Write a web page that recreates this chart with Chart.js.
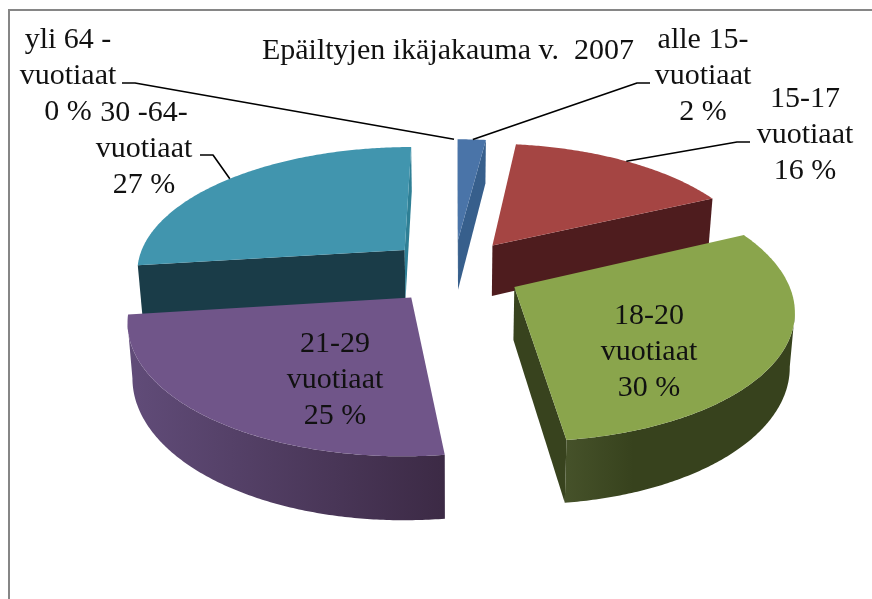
<!DOCTYPE html>
<html><head><meta charset="utf-8">
<style>html,body{margin:0;padding:0;background:#fff}canvas{display:block}</style>
<script src="https://cdn.jsdelivr.net/npm/chart.js@4"></script>
</head><body>
<div style="width:872px;height:599px"><canvas id="c" width="872" height="599"></canvas></div>
<script>
const categories = ['alle 15-vuotiaat','15-17 vuotiaat','18-20 vuotiaat','21-29 vuotiaat','30 -64-vuotiaat','yli 64 -vuotiaat'];
const shares = [2,16,30,25,27,0];
const titleText = 'Epäiltyjen ikäjakauma v.  2007';
const topColors = ['#4A74A8','#A54543','#8AA54C','#705589','#4195AE','#C0C0C0'];
const sideColors = ['#375F8C','#4E1C1E','#38431E','#5F4A76','#2E7F95','#808080'];
const wallFrom = ['#375F8C','#4E1C1E','#46522A','#614C79','#1A3C48','#808080'];
const wallTo = ['#375F8C','#4E1C1E','#37421D','#3C2A45','#1A3C48','#808080'];
const radialColors = ['#375F8C','#4E1C1E','#38431E','#3C2A45','#1A3C48','#808080'];
const labelLines = [
  ['alle 15-','vuotiaat','2 %'],['15-17','vuotiaat','16 %'],['18-20','vuotiaat','30 %'],
  ['21-29','vuotiaat','25 %'],['30 -64-','vuotiaat','27 %'],['yli 64 -','vuotiaat','0 %']];
// label layout: centre x, first baseline y, leader elbow
const labelPlace = [
  {x:703,y:48,elbow:[[650,83],[637,83]]},
  {x:805,y:107,elbow:[[750,142],[737,142]]},
  {x:649,y:324},
  {x:335,y:352},
  {x:144,y:121,elbow:[[200,155],[213,155]]},
  {x:68,y:48,elbow:[[122,83],[135,83]]}];

const cam = {cx:454,cy:271,A:270,B:125,p:0.155,explodeX:0.25,explodeY:0.26,depth:52,shrink:0.985};
function project(X,Y,low){
  const w = 1-cam.p*Y;
  let x = cam.A*X/w, y = cam.B*Y/w;
  if(low){ x*=cam.shrink; y+=cam.depth/w; }
  return [cam.cx+x, cam.cy+y];
}
function poly(ctx,pts,fill){
  ctx.beginPath();pts.forEach((p,i)=>i?ctx.lineTo(p[0],p[1]):ctx.moveTo(p[0],p[1]));ctx.closePath();
  ctx.fillStyle=fill;ctx.fill();
}
function sliceGeom(el){
  const mid=(el.startAngle+el.endAngle)/2;
  const ax=cam.explodeX*Math.cos(mid), ay=cam.explodeY*Math.sin(mid);
  const n=Math.max(1,Math.ceil((el.endAngle-el.startAngle)/0.01));
  const rim=[];
  for(let k=0;k<=n;k++){const t=el.startAngle+(el.endAngle-el.startAngle)*k/n;rim.push([ax+Math.cos(t),ay+Math.sin(t)]);}
  return {mid,ax,ay,rim};
}
const pie3d = {
  id:'pie3d',
  beforeDraw(chart){
    const c=chart.ctx;c.save();c.strokeStyle='#868686';c.lineWidth=2;
    c.beginPath();c.moveTo(9,599);c.lineTo(9,10);c.lineTo(872,10);c.stroke();c.restore();
  },
  beforeDatasetDraw(chart,args){
    const ctx=chart.ctx, els=args.meta.data;
    const order=els.map((el,i)=>({el,i,g:sliceGeom(el)})).filter(o=>shares[o.i]>0)
      .sort((a,b)=>a.g.ay-b.g.ay);
    ctx.save();
    order.forEach(({i,g})=>{
      const apexT=project(g.ax,g.ay), apexB=project(g.ax,g.ay,true);
      const top=g.rim.map(p=>project(p[0],p[1])), low=g.rim.map(p=>project(p[0],p[1],true));
      // radial walls facing the viewer
      [[0,1],[top.length-1,-1]].forEach(([idx,sgn])=>{
        const q=top[idx];
        const dx=q[0]-apexT[0], dy=q[1]-apexT[1];
        const ny=sgn>0? -dx : dx;
        if(ny>0){
          const col=(i===0||i===4)&&Math.abs(dx)<Math.abs(dy)?sideColors[i]:radialColors[i];
          poly(ctx,[apexT,q,low[idx],apexB],col);
        }
      });
      // outer wall: the run of rim steps that face the viewer
      const front=[];
      for(let k=0;k<top.length-1;k++){ if(top[k+1][0]-top[k][0]<0) front.push(k); }
      if(front.length){
        const a=front[0], b=front[front.length-1]+1;
        const up=top.slice(a,b+1), dn=low.slice(a,b+1).reverse();
        const xs=up.concat(dn).map(p=>p[0]);
        const xa=Math.min(...xs), xb=Math.max(...xs);
        const grad=ctx.createLinearGradient(xa,0,xb,0);
        grad.addColorStop(0,wallFrom[i]);
        if(i===2) grad.addColorStop(0.3,wallTo[i]);
        grad.addColorStop(1,wallTo[i]);
        poly(ctx,up.concat(dn),grad);
      }
      poly(ctx,[apexT,...top],topColors[i]);
    });
    ctx.restore();
    return false;
  },
  afterDraw(chart){
    const ctx=chart.ctx, els=chart.getDatasetMeta(0).data;
    ctx.save();
    ctx.strokeStyle='#000';ctx.lineWidth=1.6;ctx.lineJoin='round';
    labelPlace.forEach((pl,i)=>{
      if(!pl.elbow) return;
      const g=sliceGeom(els[i]);
      const c=g.rim[Math.floor(g.rim.length/2)];
      const end=project(c[0],c[1]);
      ctx.beginPath();ctx.moveTo(pl.elbow[0][0],pl.elbow[0][1]);ctx.lineTo(pl.elbow[1][0],pl.elbow[1][1]);
      ctx.lineTo(end[0],end[1]);ctx.stroke();
    });
    ctx.fillStyle='#111';ctx.font='30px "Liberation Serif"';ctx.textAlign='center';ctx.textBaseline='alphabetic';
    labelPlace.forEach((pl,i)=>{
      labelLines[i].forEach((s,j)=>{ctx.fillText(s,pl.x,pl.y+j*36);});
    });
    ctx.restore();
  }
};
new Chart(document.getElementById('c'),{
  type:'pie',
  data:{labels:categories,datasets:[{data:shares,backgroundColor:topColors,borderWidth:0}]},
  options:{
    responsive:false,animation:false,
    layout:{padding:{left:24}},
    plugins:{
      legend:{display:false},tooltip:{enabled:false},
      title:{display:true,text:titleText,color:'#111',align:'center',
        font:{family:'"Liberation Serif"',size:30,weight:'normal'},padding:{top:33,bottom:0}}
    }
  },
  plugins:[pie3d]
});
</script>
</body></html>
